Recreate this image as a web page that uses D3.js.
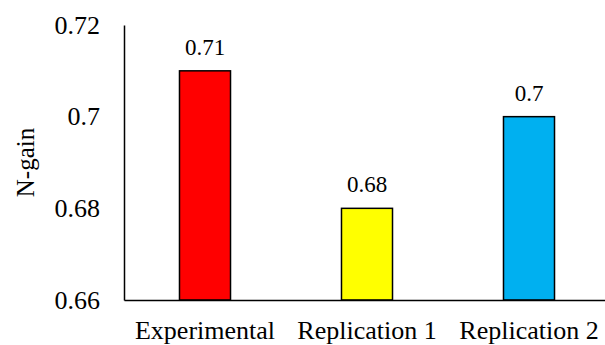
<!DOCTYPE html>
<html>
<head>
<meta charset="utf-8">
<script src="https://d3js.org/d3.v7.min.js"></script>
<style>
  body { margin: 0; background: #fff; }
</style>
</head>
<body>
<script>
// chart data
var categories = ["Experimental", "Replication 1", "Replication 2"];
var values = [0.71, 0.68, 0.70];
var valueLabels = ["0.71", "0.68", "0.7"];
var colors = ["#FF0000", "#FFFF00", "#00B0F0"];
var yTicks = [0.66, 0.68, 0.70, 0.72];
var yTickLabels = ["0.66", "0.68", "0.7", "0.72"];

var serif = "'Liberation Serif', 'Times New Roman', Times, 'DejaVu Serif', serif";

// set the dimensions and margins of the graph
var margin = {top: 25, right: -5, bottom: 45, left: 124},
    width = 605 - margin.left - margin.right,
    height = 345 - margin.top - margin.bottom;

// set the ranges
var x = d3.scaleBand().domain(categories).range([0, width]).paddingInner(0.685).paddingOuter(0.3425);
var y = d3.scaleLinear().domain([0.66, 0.72]).range([height, 0]);

var svg = d3.select("body").append("svg")
    .attr("width", 605)
    .attr("height", 345)
  .append("g")
    .attr("transform", "translate(" + margin.left + "," + margin.top + ")");

// bars
svg.selectAll(".bar")
    .data(values)
  .enter().append("rect")
    .attr("class", "bar")
    .attr("x", function(d, i) { return x(categories[i]); })
    .attr("y", function(d) { return y(d); })
    .attr("width", x.bandwidth())
    .attr("height", function(d) { return height - y(d); })
    .attr("fill", function(d, i) { return colors[i]; })
    .attr("stroke", "#000")
    .attr("stroke-width", 1.5);

// value labels
svg.selectAll(".val")
    .data(values)
  .enter().append("text")
    .attr("class", "val")
    .attr("x", function(d, i) { return x(categories[i]) + x.bandwidth() / 2; })
    .attr("y", function(d) { return y(d) - 16; })
    .attr("text-anchor", "middle")
    .style("font-family", serif)
    .style("font-size", "23px")
    .text(function(d, i) { return valueLabels[i]; });

// y axis
var yAxis = svg.append("g")
    .call(d3.axisLeft(y).tickValues(yTicks).tickSize(0).tickPadding(24)
      .tickFormat(function(d, i) { return yTickLabels[i]; }));
yAxis.select(".domain").attr("stroke", "#000").attr("stroke-width", 1.5);
yAxis.selectAll("text").style("font-family", serif).style("font-size", "26px");

// x axis
var xAxis = svg.append("g")
    .attr("transform", "translate(0," + height + ")")
    .call(d3.axisBottom(x).tickSize(0).tickPadding(21));
xAxis.select(".domain").attr("stroke", "#000").attr("stroke-width", 1.5);
xAxis.selectAll("text").style("font-family", serif).style("font-size", "26px");

// y axis title
svg.append("text")
    .attr("transform", "rotate(-90)")
    .attr("x", -y(0.69))
    .attr("y", -124 + 34)
    .attr("text-anchor", "middle")
    .style("font-family", serif)
    .style("font-size", "25px")
    .text("N-gain");
</script>
</body>
</html>
